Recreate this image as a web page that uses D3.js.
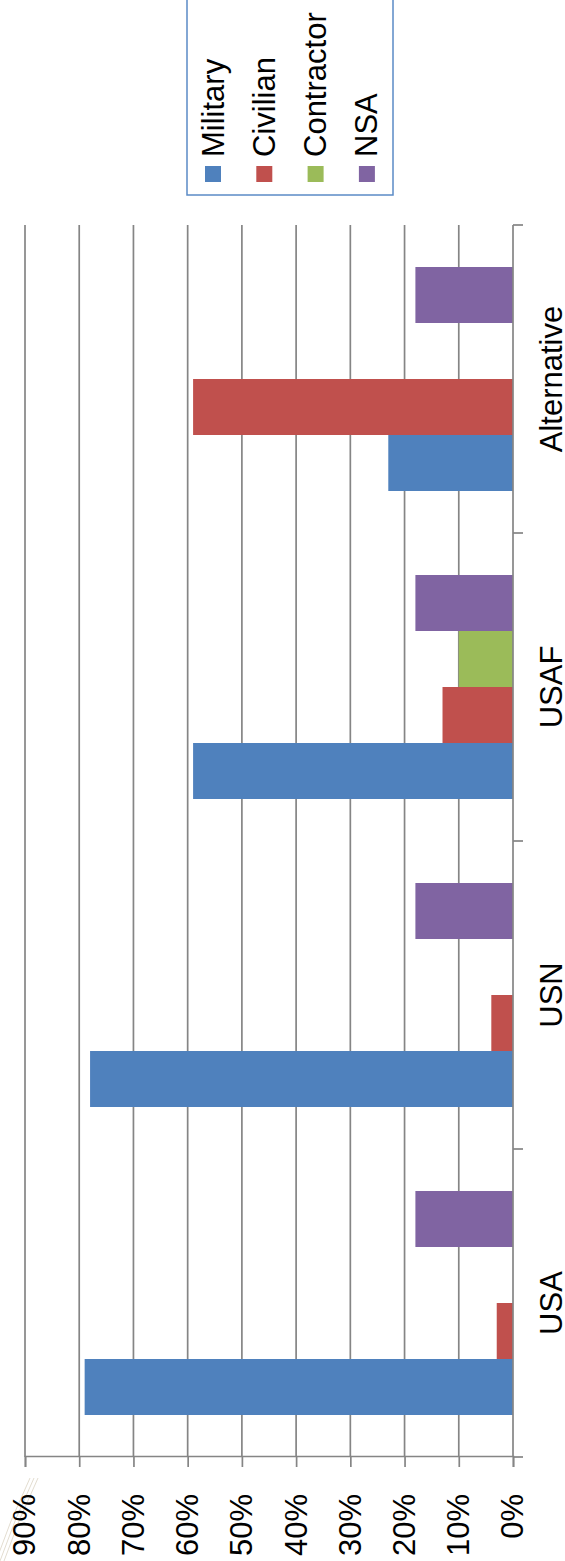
<!DOCTYPE html>
<html>
<head>
<meta charset="utf-8">
<script src="https://cdn.jsdelivr.net/npm/d3@7"></script>
<style>
  html, body { margin: 0; padding: 0; background: #ffffff; }
  svg { display: block; }
  text { font-family: "Liberation Sans", Arial, sans-serif; fill: #000; }
</style>
</head>
<body>
<svg id="chart" width="565" height="1561"></svg>
<script>
const categories = ["USA", "USN", "USAF", "Alternative"];
const seriesNames = ["Military", "Civilian", "Contractor", "NSA"];
const military   = [0.79, 0.78, 0.59, 0.23];
const civilian   = [0.03, 0.04, 0.13, 0.59];
const contractor = [0.00, 0.00, 0.10, 0.00];
const nsa        = [0.18, 0.18, 0.18, 0.18];
const seriesColors = ["#4F81BD", "#C0504D", "#9BBB59", "#8064A2"];
const tickValues = [0, 0.1, 0.2, 0.3, 0.4, 0.5, 0.6, 0.7, 0.8, 0.9];

const seriesValues = [military, civilian, contractor, nsa];
const W = 565, H = 1561;
const FS = 31;
const gridColor = "#858585";
const gridW = 1.7;

const svg = d3.select("#chart");

// faint decorative background strokes (slide background, lower-left)
const deco = svg.append("g").attr("fill", "none").attr("stroke", "#e3ddd0").attr("stroke-width", 1);
[0, 4, 8].forEach(o => {
  deco.append("path").attr("d", `M${-4 + o},${1561} Q${10 + o},${1520} ${30 + o},${1478}`);
});

// Chart drawn as a normal column chart, then rotated -90 degrees
const g = svg.append("g").attr("transform", `translate(0,${H}) rotate(-90)`);
// original frame: x_o in [0, H], y_o in [0, W]; screen_x = y_o, screen_y = H - x_o

const plotLeft = H - 1457, plotRight = H - 225;
const x0 = d3.scaleBand().domain(categories).range([plotLeft, plotRight]).paddingInner(0).paddingOuter(0);
const x1 = d3.scaleBand().domain(seriesNames).range([0, x0.bandwidth()]).paddingInner(0).paddingOuter(0.75);
const y = d3.scaleLinear().domain([0, 0.9]).range([513, 25]);

// gridlines
g.append("g").selectAll("line")
  .data(tickValues.filter(v => v > 0))
  .join("line")
  .attr("x1", plotLeft).attr("x2", plotRight)
  .attr("y1", d => y(d)).attr("y2", d => y(d))
  .attr("stroke", gridColor).attr("stroke-width", gridW);

// value axis
const yAxis = d3.axisLeft(y)
  .tickValues(tickValues)
  .tickFormat(d3.format(".0%"))
  .tickSize(10)
  .tickPadding(27);
const ya = g.append("g").attr("transform", `translate(${plotLeft},0)`).call(yAxis);
ya.select(".domain").attr("stroke", gridColor).attr("stroke-width", gridW);
ya.selectAll(".tick line").attr("stroke", gridColor).attr("stroke-width", gridW);
ya.selectAll(".tick text")
  .attr("font-size", FS)
  .attr("font-family", "Liberation Sans, Arial, sans-serif")
  .attr("fill", "#000");

// bars
const groups = g.append("g").selectAll("g")
  .data(categories)
  .join("g")
  .attr("transform", d => `translate(${x0(d)},0)`);
groups.selectAll("rect")
  .data((c, ci) => seriesNames.map((s, si) => ({ s, si, v: seriesValues[si][ci] })))
  .join("rect")
  .attr("x", d => x1(d.s))
  .attr("width", x1.bandwidth())
  .attr("y", d => y(d.v))
  .attr("height", d => y(0) - y(d.v))
  .attr("fill", d => seriesColors[d.si]);

// category axis
const xa = g.append("g");
xa.append("line")
  .attr("x1", plotLeft).attr("x2", plotRight)
  .attr("y1", y(0)).attr("y2", y(0))
  .attr("stroke", gridColor).attr("stroke-width", gridW);
const boundaries = categories.map(c => x0(c)).concat([x0(categories[categories.length - 1]) + x0.bandwidth()]);
xa.selectAll("line.tk")
  .data(boundaries)
  .join("line")
  .attr("class", "tk")
  .attr("x1", d => d).attr("x2", d => d)
  .attr("y1", y(0)).attr("y2", y(0) + 10)
  .attr("stroke", gridColor).attr("stroke-width", gridW);
xa.selectAll("text")
  .data(categories)
  .join("text")
  .attr("x", d => x0(d) + x0.bandwidth() / 2)
  .attr("y", 562)
  .attr("text-anchor", "middle")
  .attr("font-size", FS)
  .text(d => d);

// legend
const leg = g.append("g");
leg.append("rect")
  .attr("x", H - 195).attr("y", 187)
  .attr("width", 205).attr("height", 206)
  .attr("fill", "#fff")
  .attr("stroke", "#5B8BC6").attr("stroke-width", 1.5);
const legItems = leg.selectAll("g.item")
  .data(seriesNames)
  .join("g")
  .attr("class", "item")
  .attr("transform", (d, i) => `translate(${H - 182},${213 + i * 51.3})`);
legItems.append("rect")
  .attr("x", 0).attr("y", -8)
  .attr("width", 16).attr("height", 16)
  .attr("fill", (d, i) => seriesColors[i]);
legItems.append("text")
  .attr("x", 25).attr("y", 10.5)
  .attr("font-size", FS)
  .text(d => d);
</script>
</body>
</html>
